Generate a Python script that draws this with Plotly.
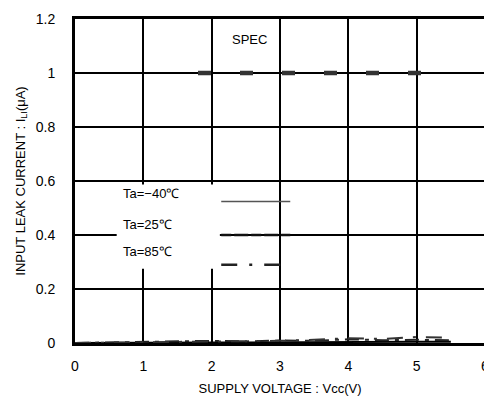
import plotly.graph_objects as go

# data
vcc = [0, 0.5, 1.0, 1.5, 2.0, 2.5, 3.0, 3.5, 4.0, 4.5, 5.0, 5.5]
ili_m40 = [0, 0.001, 0.001, 0.001, 0.002, 0.002, 0.003, 0.003, 0.004, 0.004, 0.005, 0.005]
ili_25 = [0, 0.002, 0.003, 0.006, 0.008, 0.006, 0.009, 0.008, 0.014, 0.010, 0.012, 0.010]
ili_85 = [0, 0.001, 0.002, 0.004, 0.006, 0.006, 0.008, 0.012, 0.018, 0.015, 0.022, 0.020]
spec_x = [1.8, 5.07]
spec_y = [1.0, 1.0]
x_ticks = [0, 1, 2, 3, 4, 5, 6]
y_ticks = [0, 0.2, 0.4, 0.6, 0.8, 1.0, 1.2]
y_labels = ["0", "0.2", "0.4", "0.6", "0.8", "1", "1.2"]
legend_names = ["Ta=−40℃", "Ta=25℃", "Ta=85℃"]

fig = go.Figure()
fig.add_trace(go.Scatter(x=vcc, y=ili_m40, mode="lines",
                         line=dict(color="black", width=2, dash="solid"), showlegend=False))
fig.add_trace(go.Scatter(x=vcc, y=ili_25, mode="lines",
                         line=dict(color="#222", width=2, dash="14px,6px,4px,6px"), showlegend=False))
fig.add_trace(go.Scatter(x=vcc, y=ili_85, mode="lines",
                         line=dict(color="#333", width=2, dash="16px,10px,3px,10px"), showlegend=False))
fig.add_trace(go.Scatter(x=spec_x, y=spec_y, mode="lines",
                         line=dict(color="#333", width=4.5, dash="13px,29px"), showlegend=False))

# legend white box covering the grid
fig.add_shape(type="rect", x0=0.61, x1=2.12, y0=0.275, y1=0.587,
              xref="x", yref="y", fillcolor="white", line=dict(width=0), layer="between")

# legend sample lines
samples = [(0.524, "solid", 1.5, "#555"), (0.40, "10px,3px,14px,3px", 2.5, "#111"),
           (0.29, "16px,12px,3px,12px", 2.5, "#222")]
for yy, dsh, w, c in samples:
    fig.add_shape(type="line", x0=2.14, x1=3.15, y0=yy, y1=yy, xref="x", yref="y",
                  line=dict(color=c, width=w, dash=dsh))

legend_y = [0.555, 0.44, 0.34]
for name, yy in zip(legend_names, legend_y):
    fig.add_annotation(x=0.68, y=yy, xref="x", yref="y", text=name, showarrow=False,
                       xanchor="left", yanchor="middle",
                       font=dict(family="Liberation Sans, Arial", size=13, color="black"))

fig.add_annotation(x=2.27, y=1.125, xref="x", yref="y", text="SPEC", showarrow=False,
                   xanchor="left", yanchor="middle",
                   font=dict(family="Liberation Sans, Arial", size=13, color="black"))

fig.update_layout(
    width=484, height=404,
    margin=dict(l=67, r=3, t=7, b=69),
    paper_bgcolor="white", plot_bgcolor="white",
    font=dict(family="Liberation Sans, Arial", size=14, color="black"),
    xaxis=dict(range=[0, 6], tickvals=x_ticks, ticktext=[str(t) for t in x_ticks],
               showgrid=True, gridcolor="black", gridwidth=1.5,
               showline=True, linecolor="black", linewidth=3, mirror=True,
               ticks="", ticklabelstandoff=8, zeroline=False, ticklabeloverflow="allow",
               title=dict(text="SUPPLY VOLTAGE : Vcc(V)", font=dict(size=13), standoff=12)),
    yaxis=dict(range=[0, 1.2], tickvals=y_ticks, ticktext=y_labels,
               showgrid=True, gridcolor="black", gridwidth=1.5,
               showline=True, linecolor="black", linewidth=3, mirror=True,
               ticks="", ticklabelstandoff=14, zeroline=False, ticklabeloverflow="allow",
               title=dict(text="INPUT LEAK CURRENT : I<sub>LI</sub>(μA)", font=dict(size=13), standoff=8)),
)

fig.write_html("out.html")
